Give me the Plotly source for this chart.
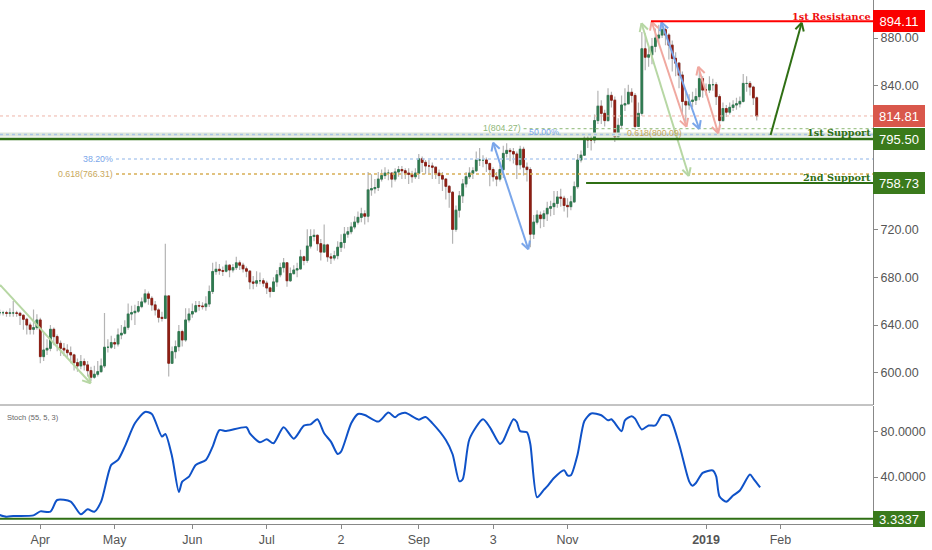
import math
import plotly.graph_objects as go

first_bar = -12
closes = [650.3,650.3,649.8,650.1,650.1,649.8,648.1,644.8,640,636.4,
 637.8,644.2,613.6,619.1,620.5,636.4,630.3,624.7,620.5,619.1,
 616.9,615,608.5,605.8,609.4,606.6,601.8,596.3,598.8,601,
 605.8,621.4,621.4,625.3,624.1,631.7,633.1,638.1,649.2,650.3,
 651.5,655.4,659.3,666,662.3,656.8,652.6,646.4,645.6,664.3,
 608,617.7,621.9,634.5,627.5,644.2,649.2,651.2,656.2,655.9,
 655.4,657.6,668,684.7,686.6,685.5,685,690,686,688,
 692,690,687,685,676,675,677,677,675,671,
 668,676,682,688,692,677,683,686,687,697,
 694,706,714,715,708,701,707,697,696,698,
 705,709,716,718,722,726,730,733,731,753,
 754,755,762,765,767,767,762,768,770,769,
 767,766,764,767,779,776,773,773,772,767,
 765,762,756,751,720,736,748,758,764,767,
 769,778,778,778,775,770,764,762,770,783.5,
 786,785,783,774,787,772,770,716,726,732,
 729,733,737.6,739,741.7,747,746,740,739,743,
 755.7,778,782,796,794.7,794.7,811,823,817,811,
 832,828,797.5,807,824,825,834.6,832,806,817,
 871,864,866,873,880,882.5,887,882.5,874,863,
 859,849,827,824,827,828,831,846,836.5,836.5,
 841,841,831,811,821,818,822,824,825,827,
 842,842,839,830,814.81]
highs = [653,652,652,654,660,652,651,649,646,642,
 653,649,646,634,628,640,638,632,627,625,
 624,622,616,612,615,612,610,605,606,610,
 612,650,628,631,629,637,640,644,658,656,
 657,660,663,670,668,664,660,654,651,708,
 663,622,627,640,636,654,654,658,660,660,
 659,664,673,692,693,691,689,694,691,691,
 697,694,692,689,686,681,685,684,679,677,
 672,680,686,692,696,692,688,690,692,703,
 698,720,720,720,716,712,724,708,700,702,
 710,716,722,722,726,731,735,738,736,768,
 766,762,768,770,772,770,768,771,773,773,
 771,771,769,771,783,781,778,778,776,772,
 770,768,763,757,752,740,752,762,768,772,
 772,785,788,782,780,776,772,768,774,790,
 792,788,788,785,790,789,776,772,732,736,
 735,736,743,744,752,752,754,748,746,748,
 760,783,786,800,799,798,816,836,828,820,
 838,835,831,813,832,838,841,838,834,826,
 885,884,872,880,888,891,892,889,884,878,
 868,860,852,836,833,835,838,852,848,842,
 848,846,843,833,826,824,826,828,830,831,
 850,848,844,840,831]
lows = [648,648,647,647,647,647,640,636,632,632,
 632,636,608,610,615,618,623,618,614,614,
 612,608,602,601,603,602,597,593,595,597,
 600,604,617,620,620,622,628,632,636,644,
 640,650,654,658,657,652,648,642,643,645,
 597,612,612,618,622,626,642,646,650,652,
 653,652,655,666,682,682,681,684,680,684,
 686,686,684,680,670,670,672,674,672,666,
 663,668,672,680,684,672,676,682,680,686,
 690,692,704,710,702,694,702,693,691,694,
 695,701,704,713,716,720,724,726,724,726,
 748,750,752,760,762,761,755,760,764,762,
 762,758,759,762,762,768,766,767,762,762,
 758,752,745,738,708,718,730,742,755,762,
 762,768,773,772,768,756,760,756,760,763,
 780,777,775,762,770,765,760,705,712,724,
 721,722,727,731,732,738,739,735,730,736,
 742,754,776,782,788,786,792,808,808,806,
 810,822,793,800,804,819,828,826,803,808,
 815,853,856,858,868,876,880,874,862,852,
 848,838,815,810,820,822,824,828,830,832,
 834,836,824,803,810,814,816,819,820,822,
 826,835,832,824,811]

month_bars = [0, 22, 45, 67, 89, 112, 134, 156, 197, 219]
month_labels = ["Apr", "May", "Jun", "Jul", "2", "Sep", "3", "Nov", "<b>2019</b>", "Feb"]
price_ticks = [600, 640, 680, 720, 760, 800, 840, 880]
price_tick_labels = ["600.00", "640.00", "680.00", "720.00", "", "", "840.00", "880.00"]
stoch_ticks = [40, 80]

stoch_bars = [-12,-10,-8,-2,0,3,5,9,12,14,16,18,21,23,25,28,31,33,36,37,39,41,42,44,46,49,51,53,55,61,62,65,67,69,72,75,78,80,82,84,86,88,89,92,94,96,100,103,105,
 106,108,112,114,116,120,122,124,125,127,131,133,136,137,140,141,142,144,145,147,149,150,152,155,156,157,159,161,163,166,168,169,172,173,175,176,178,180,182,184,186,189,192,193,194,196,199,200,201,203,205,207,210,211,213]
stoch_values = [6.6,5.1,5.7,6.3,9.8,9.5,19.8,18.3,7.2,11.6,9.5,18.3,50.6,55,66.7,87.2,97.2,95.4,75.5,77.8,57.9,26.8,35.9,40.3,50.6,55,66.7,81.3,80.4,83.7,78.4,70.5,73.1,69.6,83.7,73.7,85.1,86.3,90.7,78.4,71.1,60.2,62.3,87.2,95.4,94.5,88.7,96.6,92.5,
 94.8,96.4,90.4,92.8,87.4,72.5,60,36.2,38,73.4,90.7,83.9,69,71.9,90.7,88.3,80.3,79.4,69,22.2,28.7,31.7,39.2,46,41.5,41.5,60,89.2,95.8,94.3,89.8,90.7,80.3,89.8,93.4,91.3,81.8,85.3,85.3,94.3,93.7,69,36.2,32.3,34.7,43.6,45.7,40.6,22.8,18.3,23.7,28.1,42.1,38.6,30.8]

PX_PER_BAR = 3.38
PX_PER_USD = 1.196
GREEN = "#2f6f14"
PALE_GREEN = "#b7d7a4"
BLUE = "#7aa6ea"
PINK = "#f0a8a0"
TAN = "#c9a85c"
left_bar, right_bar = -11.92, 246.4
bars = list(range(first_bar, first_bar + len(closes)))
assert len(closes) == len(highs) == len(lows)
opens = [650.3] + closes[:-1]
tops = [max(o, c) for o, c in zip(opens, closes)]
bottoms = [min(o, c) for o, c in zip(opens, closes)]
highs = [max(h, t) for h, t in zip(highs, tops)]
lows = [min(l, b) for l, b in zip(lows, bottoms)]

def head(tip, tail, length=9, spread=0.5):
    dx = (tail[0] - tip[0]) * PX_PER_BAR
    dy = (tail[1] - tip[1]) * PX_PER_USD
    a = math.atan2(dy, dx)
    xs, ys = [], []
    for s in (-spread, spread):
        xs += [tip[0] + length * math.cos(a + s) / PX_PER_BAR, tip[0], None]
        ys += [tip[1] + length * math.sin(a + s) / PX_PER_USD, tip[1], None]
    return xs, ys

fig = go.Figure()
def hline(x0, price, color, width, dash="solid"):
    fig.add_trace(go.Scatter(x=[x0, right_bar], y=[price, price], mode="lines", hoverinfo="skip",
                             line=dict(color=color, width=width, dash=dash)))
def arrow(a, b, color, heads, width=2):
    xs, ys = [a[0], b[0], None], [a[1], b[1], None]
    if "a" in heads:
        hx, hy = head(a, b); xs += hx; ys += hy
    if "b" in heads:
        hx, hy = head(b, a); xs += hx; ys += hy
    fig.add_trace(go.Scatter(x=xs, y=ys, mode="lines", hoverinfo="skip", line=dict(color=color, width=width)))

hline(left_bar, 814.81, "#eeb4a8", 1, "dot")
hline(143, 804.27, "#a3c690", 1.4, "dot")
hline(left_bar, 799.3, "#dde6da", 4)
hline(left_bar, 799.3, "#a9c3e6", 1.6, "dot")
hline(22.4, 778.8, "#b4cdf0", 1.4, "dot")
hline(22.4, 766.31, "#d7ae55", 1.4, "dot")

arrow((-11.9, 673.5), (14.9, 591.3), PALE_GREEN, "b")
arrow((134, 792.5), (144.4, 703.3), BLUE, "ab")
arrow((177.9, 892.3), (191.9, 764.6), PALE_GREEN, "ab")
arrow((183.8, 893.1), (195, 803.9), BLUE, "ab")

fig.add_trace(go.Candlestick(x=bars, open=opens, high=highs, low=lows, close=closes, whiskerwidth=0, hoverinfo="skip",
    increasing=dict(line=dict(color="#b4b4b4", width=1.2), fillcolor="#b4b4b4"),
    decreasing=dict(line=dict(color="#b4b4b4", width=1.2), fillcolor="#b4b4b4")))
fig.add_trace(go.Candlestick(x=bars, open=opens, high=tops, low=bottoms, close=closes, whiskerwidth=0, hoverinfo="skip",
    increasing=dict(line=dict(color="#2f7a50", width=1), fillcolor="#2f7a50"),
    decreasing=dict(line=dict(color="#8e1f14", width=1), fillcolor="#8e1f14")))

arrow((180.9, 893.6), (191.2, 805.8), PINK, "ab")
arrow((194.7, 856), (200.6, 800.3), PINK, "ab")
arrow((216.1, 798.9), (225.3, 892.8), GREEN, "b")

hline(180.7, 894.11, "#ff0000", 2)
hline(left_bar, 795.5, GREEN, 2.4)
hline(161.5, 758.73, GREEN, 2)

fig.add_trace(go.Scatter(x=stoch_bars, y=stoch_values, mode="lines", yaxis="y2", hoverinfo="skip",
                         line=dict(color="#0f52c8", width=2, shape="spline", smoothing=0.7)))
fig.add_trace(go.Scatter(x=[left_bar, right_bar], y=[3.3337, 3.3337], mode="lines", yaxis="y2", hoverinfo="skip",
                         line=dict(color=GREEN, width=2)))

def note(bar, price, text, color, size, family="Liberation Sans", bold=False, anchor="right"):
    fig.add_annotation(x=bar, y=price, text=f"<b>{text}</b>" if bold else text, showarrow=False, xanchor=anchor,
                       yanchor="middle", font=dict(family=family, size=size, color=color))
note(142.8, 804.6, "1(804.27)", "#8fb87a", 8.8)
note(154.2, 801, "50.00%", BLUE, 8.8)
note(190.5, 800.2, "0.618(800.09)", TAN, 8.8)
note(22.2, 778.8, "38.20%", BLUE, 8.8)
note(22.2, 766.31, "0.618(766.31)", TAN, 8.8)
note(246.4, 898.3, "1st Resistance", "#f01010", 9.7, "DejaVu Serif", True)
note(246.4, 800.8, "1st Support", GREEN, 9.7, "DejaVu Serif", True)
note(246.4, 763.3, "2nd Support", GREEN, 9.7, "DejaVu Serif", True)

def badge(value, text, color, yref="y", h=20):
    fig.add_annotation(xref="paper", yref=yref, x=1.0005, y=value, text=text, showarrow=False, xanchor="left",
                       yanchor="middle", width=50, height=h, align="center", bgcolor=color,
                       bordercolor=color, borderpad=0, font=dict(family="Liberation Sans", size=13, color="white"))
badge(894.11, "894.11", "#fa0000")
badge(814.81, "814.81", "#d9574b")
badge(795.5, "795.50", "#3a7a1c")
badge(758.73, "758.73", "#3a7a1c")
badge(3.3337, "3.3337", "#3a7a1c", "y2", 14)

fig.add_annotation(xref="paper", yref="y2", x=5/873, y=92.7, text="Stoch (55, 5, 3)", showarrow=False, xanchor="left",
                   font=dict(family="Liberation Sans", size=7.5, color="#666"))

fig.add_shape(type="line", xref="paper", yref="paper", x0=0, x1=1, y0=119/524, y1=119/524, line=dict(color="#888", width=1))

AX = dict(showgrid=False, zeroline=False, showline=True, linecolor="#888", linewidth=1, ticks="outside",
          ticklen=4, tickcolor="#888", tickfont=dict(family="Liberation Sans", size=12.5, color="#555"))
fig.update_layout(
    width=932, height=550, autosize=False, margin=dict(l=0, r=59, t=0, b=26, pad=0),
    paper_bgcolor="white", plot_bgcolor="white", showlegend=False, font=dict(family="Liberation Sans"),
    xaxis=dict(AX, range=[left_bar, right_bar], anchor="y2", tickmode="array", tickvals=month_bars, ticktext=month_labels,
               rangeslider=dict(visible=False)),
    yaxis=dict(AX, side="right", domain=[119/524, 1], range=[573.1, 911.8], anchor="x", tickmode="array",
               tickvals=price_ticks, ticktext=price_tick_labels),
    yaxis2=dict(AX, side="right", domain=[0, 118/524], range=[-1.3, 102.4], anchor="x", tickmode="array",
                tickvals=stoch_ticks, ticktext=["40.0000", "80.0000"]),
)
fig.write_html("out.html", config=dict(displayModeBar=False),
               post_script="document.body.style.margin='0';document.body.style.overflow='hidden';")
